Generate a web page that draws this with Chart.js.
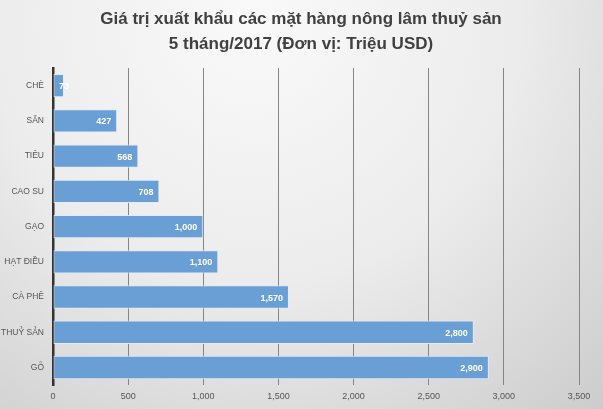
<!DOCTYPE html>
<html>
<head>
<meta charset="utf-8">
<script src="https://cdn.jsdelivr.net/npm/chart.js@4/dist/chart.umd.min.js"></script>
<style>
html,body{margin:0;padding:0;background:#e6e6e6;}
#wrap{width:603px;height:409px;position:relative;}
</style>
</head>
<body>
<div id="wrap"><canvas id="c"></canvas></div>
<script>
const categories = ["CHÈ", "SẮN", "TIÊU", "CAO SU", "GẠO", "HẠT ĐIỀU", "CÀ PHÊ", "THUỶ SẢN", "GỖ"];
const values = [73, 427, 568, 708, 1000, 1100, 1570, 2800, 2900];
const titleLines = ["Giá trị xuất khẩu các mặt hàng nông lâm thuỷ sản", "5 tháng/2017 (Đơn vị: Triệu USD)"];
const xMax = 3500;
const xStep = 500;

const bgPlugin = {
  id: 'bg',
  beforeDraw(chart) {
    const ctx = chart.ctx, w = chart.width, h = chart.height;
    ctx.save();
    const g = ctx.createRadialGradient(w*0.42, h*0.05, 10, w*0.42, h*0.05, w*0.95);
    g.addColorStop(0, '#f9f9f9');
    g.addColorStop(0.45, '#ececec');
    g.addColorStop(1, '#c6c6c6');
    ctx.fillStyle = g;
    ctx.fillRect(0, 0, w, h);
    ctx.restore();
  }
};

const titlePlugin = {
  id: 'ttl',
  afterDraw(chart) {
    const ctx = chart.ctx;
    ctx.save();
    ctx.font = 'bold 17px "Liberation Sans", Arial, sans-serif';
    ctx.fillStyle = '#404040';
    ctx.textAlign = 'center';
    ctx.textBaseline = 'middle';
    ctx.fillText(titleLines[0], 301, 19);
    ctx.fillText(titleLines[1], 301, 44);
    ctx.restore();
  }
};

const labelPlugin = {
  id: 'vals',
  afterDatasetsDraw(chart) {
    const ctx = chart.ctx;
    const meta = chart.getDatasetMeta(0);
    const base = chart.scales.x.getPixelForValue(0);
    ctx.save();
    ctx.font = 'bold 9px "Liberation Sans", Arial, sans-serif';
    ctx.fillStyle = '#ffffff';
    ctx.textBaseline = 'middle';
    meta.data.forEach((bar, i) => {
      const txt = values[i].toLocaleString('en-US');
      const tw = ctx.measureText(txt).width;
      let x = bar.x - 6;
      if (x - tw < base + 3) {
        ctx.textAlign = 'left';
        ctx.fillText(txt, base + 6, bar.y + 1);
      } else {
        ctx.textAlign = 'right';
        ctx.fillText(txt, x, bar.y + 1);
      }
    });
    ctx.restore();
  }
};

new Chart(document.getElementById('c'), {
  type: 'bar',
  data: {
    labels: categories,
    datasets: [{
      data: values,
      backgroundColor: '#6a9fd6',
      borderColor: 'rgba(225,236,248,0.95)',
      borderWidth: 1,
      borderSkipped: false,
      barPercentage: 0.665,
      categoryPercentage: 1
    }]
  },
  options: {
    indexAxis: 'y',
    responsive: true,
    maintainAspectRatio: false,
    animation: false,
    layout: { padding: { left: 0, right: 24, top: 68, bottom: 1 } },
    plugins: {
      legend: { display: false },
      tooltip: { enabled: false },
      title: { display: false }
    },
    scales: {
      x: {
        min: 0,
        max: xMax,
        ticks: {
          stepSize: xStep,
          color: '#555555',
          padding: 6,
          font: { family: '"Liberation Sans", Arial, sans-serif', size: 9 },
          callback: v => v.toLocaleString('en-US')
        },
        grid: { color: '#858585', lineWidth: 1, drawTicks: false },
        border: { display: false }
      },
      y: {
        afterFit(scale) { scale.width = 53; },
        ticks: {
          color: '#555555',
          padding: 9,
          font: { family: '"Liberation Sans", Arial, sans-serif', size: 8.5 }
        },
        grid: { display: false, drawTicks: false },
        border: { display: true, color: '#333333', width: 2.5 }
      }
    }
  },
  plugins: [bgPlugin, titlePlugin, labelPlugin]
});
</script>
</body>
</html>
